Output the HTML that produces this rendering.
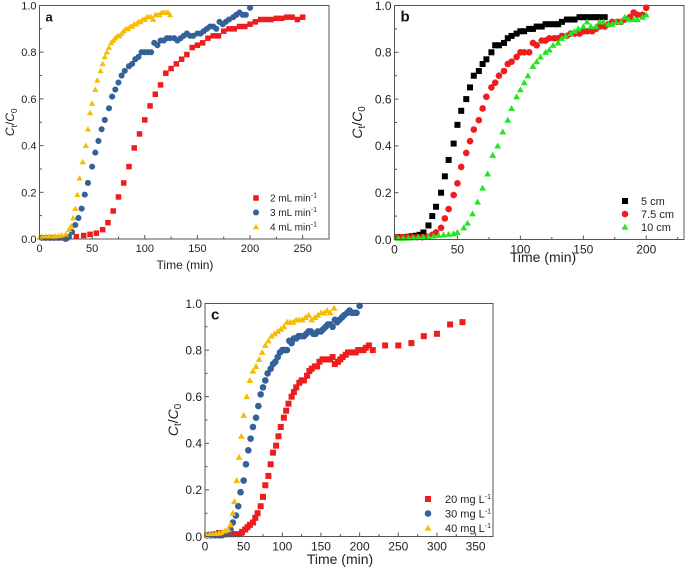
<!DOCTYPE html>
<html><head><meta charset="utf-8"><style>
html,body{margin:0;padding:0;background:#fff;}
svg{display:block;font-family:"Liberation Sans",Arial,sans-serif;}
</style></head><body>
<svg id="fig" width="685" height="568" viewBox="0 0 685 568"></svg>
<script>
// ---- Panel a data (flow rate) ----
const aRedX=[5,10,15,20,26,35,42,48,54,60,65,70,75,80,85,90,95,100,105,110,115,120,125,130,135,140,145,150,155,160,165,170,175,180,185,190,195,200,205,210,215,220,225,230,235,240,245,250];
const aRedY=[0.005,0.005,0.005,0.005,0.005,0.01,0.015,0.02,0.025,0.04,0.07,0.12,0.18,0.24,0.31,0.39,0.45,0.51,0.57,0.62,0.66,0.71,0.73,0.75,0.77,0.79,0.82,0.83,0.84,0.86,0.87,0.87,0.89,0.9,0.9,0.91,0.91,0.92,0.93,0.94,0.94,0.94,0.945,0.945,0.95,0.95,0.94,0.95];
const aBlueX=[2,6,10,14,18,22,25,28,31,34,37,40,43,46,50,53,56,59,62,66,69,72,75,78,81,85,88,91,94,97,100,103,106,109,112,115,118,121,124,128,131,134,137,140,143,146,150,153,156,159,162,165,168,171,174,177,180,184,187,190,193,196,200];
const aBlueY=[0.005,0.005,0.005,0.005,0.005,0.005,0.0,0.01,0.03,0.06,0.09,0.13,0.19,0.24,0.31,0.37,0.42,0.47,0.51,0.56,0.61,0.64,0.67,0.7,0.72,0.74,0.75,0.77,0.78,0.8,0.8,0.8,0.8,0.84,0.83,0.85,0.85,0.86,0.86,0.86,0.85,0.86,0.87,0.88,0.87,0.87,0.88,0.88,0.89,0.9,0.91,0.91,0.9,0.93,0.92,0.93,0.94,0.95,0.96,0.97,0.96,0.96,0.99];
const aYelX=[0,3,6,9,12,15,18,21,25,28,30,32,34,36,38,41,44,46,48,50,53,55,58,60,62,64,66,68,70,72,74,76,78,80,82,84,86,88,90,92,94,96,98,100,102,104,106,108,110,112,114,116,118,120,122,124];
const aYelY=[0.005,0.008,0.01,0.01,0.01,0.012,0.014,0.016,0.02,0.04,0.055,0.09,0.13,0.19,0.26,0.33,0.4,0.47,0.54,0.58,0.64,0.68,0.72,0.75,0.78,0.8,0.82,0.84,0.85,0.86,0.87,0.87,0.88,0.89,0.9,0.9,0.91,0.91,0.92,0.92,0.93,0.93,0.94,0.94,0.95,0.95,0.95,0.94,0.96,0.96,0.96,0.97,0.97,0.97,0.97,0.96];
// ---- Panel b data (bed height) ----
const bBlackX=[2,5,8,11,14,17,20,23,27,30,33,37,40,43,47,50,53,57,60,63,67,70,73,77,80,83,87,90,93,97,100,103,107,110,113,117,120,123,127,130,133,137,140,143,147,150,153,157,160,163,167];
const bBlackY=[0.01,0.01,0.01,0.012,0.014,0.016,0.02,0.03,0.06,0.1,0.14,0.2,0.27,0.34,0.41,0.49,0.55,0.6,0.65,0.7,0.72,0.75,0.77,0.8,0.83,0.83,0.84,0.86,0.87,0.88,0.89,0.89,0.9,0.9,0.91,0.91,0.92,0.92,0.92,0.92,0.93,0.94,0.94,0.94,0.95,0.95,0.95,0.95,0.95,0.95,0.95];
const bRedX=[2,6,10,14,18,22,26,30,33,37,40,43,47,50,53,57,60,63,67,70,73,77,80,83,87,90,93,97,100,103,107,110,113,117,120,123,127,130,133,137,140,143,147,150,153,157,160,163,167,170,173,177,180,183,187,190,193,197,200];
const bRedY=[0.01,0.01,0.01,0.01,0.01,0.01,0.012,0.02,0.03,0.05,0.09,0.13,0.19,0.24,0.31,0.37,0.42,0.47,0.51,0.56,0.61,0.65,0.67,0.7,0.72,0.75,0.76,0.78,0.8,0.8,0.8,0.84,0.83,0.85,0.85,0.86,0.86,0.86,0.87,0.87,0.88,0.88,0.88,0.89,0.89,0.89,0.9,0.91,0.91,0.92,0.93,0.93,0.93,0.94,0.95,0.97,0.96,0.96,0.99];
const bGreenX=[3,7,11,15,19,23,27,31,35,39,43,47,50,55,58,62,66,70,74,78,82,86,90,93,97,100,103,106,110,113,116,120,123,126,130,133,136,140,143,146,150,153,156,160,163,166,170,173,176,180,183,186,190,193,197,200];
const bGreenY=[0.005,0.005,0.006,0.008,0.01,0.01,0.012,0.015,0.018,0.02,0.022,0.025,0.03,0.05,0.07,0.11,0.16,0.22,0.28,0.36,0.4,0.46,0.51,0.56,0.61,0.64,0.67,0.7,0.74,0.76,0.78,0.8,0.81,0.83,0.84,0.86,0.87,0.88,0.89,0.9,0.91,0.93,0.91,0.91,0.93,0.93,0.92,0.92,0.93,0.93,0.95,0.94,0.94,0.94,0.95,0.96];
// ---- Panel c data (initial concentration) ----
const cRedX=[3,8,13,18,25,30,35,40,45,48,52,55,58,62,65,68,72,75,78,82,85,88,92,95,98,102,105,108,112,115,118,122,125,128,132,135,138,142,145,148,152,155,158,162,165,168,172,175,178,182,185,188,192,195,198,202,205,208,212,217,233,250,267,283,300,317,333];
const cRedY=[0.005,0.008,0.01,0.015,0.01,0.01,0.01,0.01,0.01,0.02,0.03,0.04,0.05,0.06,0.08,0.1,0.13,0.17,0.22,0.26,0.31,0.36,0.39,0.43,0.47,0.51,0.54,0.57,0.6,0.62,0.64,0.66,0.67,0.67,0.69,0.71,0.72,0.73,0.73,0.75,0.76,0.76,0.76,0.76,0.77,0.74,0.75,0.76,0.77,0.78,0.79,0.79,0.79,0.79,0.8,0.8,0.8,0.81,0.82,0.8,0.82,0.82,0.83,0.86,0.87,0.91,0.92];
const cBlueX=[3,8,13,18,22,26,30,33,36,40,43,46,50,53,56,59,62,66,69,72,75,78,81,85,88,91,94,97,100,103,106,109,112,115,118,121,124,128,131,134,137,140,143,146,150,153,156,159,162,165,168,171,174,177,180,184,187,190,193,196,200];
const cBlueY=[0.005,0.005,0.005,0.005,0.005,0.01,0.02,0.03,0.06,0.09,0.13,0.19,0.24,0.31,0.37,0.42,0.47,0.51,0.56,0.61,0.64,0.67,0.7,0.72,0.74,0.75,0.77,0.79,0.8,0.8,0.8,0.84,0.83,0.85,0.85,0.86,0.86,0.86,0.87,0.88,0.88,0.87,0.87,0.88,0.88,0.89,0.9,0.91,0.91,0.9,0.93,0.92,0.93,0.94,0.95,0.96,0.97,0.96,0.96,0.96,0.99];
const cYelX=[2,6,10,14,18,22,26,30,33,36,38,41,44,47,50,54,58,62,66,70,74,78,82,86,90,94,98,102,106,110,114,118,122,126,130,134,138,142,146,150,154,158,162,167];
const cYelY=[0.005,0.008,0.01,0.012,0.015,0.018,0.025,0.03,0.05,0.1,0.15,0.24,0.34,0.43,0.52,0.6,0.67,0.71,0.73,0.76,0.79,0.82,0.84,0.86,0.87,0.88,0.89,0.9,0.92,0.92,0.92,0.93,0.93,0.93,0.94,0.95,0.93,0.94,0.95,0.96,0.96,0.97,0.96,0.98];
const xTicksA=[0,50,100,150,200,250];
const xTicksB=[0,50,100,150,200];
const xTicksC=[0,50,100,150,200,250,300,350];
const yTicks=[0,0.2,0.4,0.6,0.8,1.0];

const NS="http://www.w3.org/2000/svg";
const svg=document.getElementById('fig');
function mk(tag,attrs,parent){const e=document.createElementNS(NS,tag);for(const k in attrs)e.setAttribute(k,attrs[k]);(parent||svg).appendChild(e);return e;}
const RED="#ee1c1c",BLUE="#35619a",YEL="#f7bd00",GRN="#22e622",BLK="#000";

function marker(g,shape,cx,cy,color,s){
  let e;
  if(shape==='sq'){e=mk('rect',{x:cx-s/2,y:cy-s/2,width:s,height:s,fill:color},g);}
  else if(shape==='ci'){e=mk('circle',{cx:cx,cy:cy,r:s/2+0.3,fill:color},g);}
  else {const h=s*0.95;e=mk('polygon',{points:`${cx},${cy-h*0.6} ${cx-s/2-0.4},${cy+h*0.45} ${cx+s/2+0.4},${cy+h*0.45}`,fill:color},g);}
  return e;
}

function panel(p){
  const g=mk('g',{});
  
  
  const xs=v=>p.L+(v-0)/(p.xmax)*(p.R-p.L);
  const ys=v=>p.B-v*(p.B-p.T);
  p.series.forEach(s=>{
    const sg=mk('g',{},g);
    
    
    for(let i=0;i<s.x.length;i++){
      const m=marker(sg,s.shape,xs(s.x[i]),ys(s.y[i]),s.color,p.ms);
      
      
    }
  });
  const fr=mk('rect',{x:p.L,y:p.T,width:p.R-p.L,height:p.B-p.T,fill:'none',stroke:'#555','stroke-width':1},g);
  
  
  const xa=mk('g',{},g);
  
  
  const step=p.xt[1]-p.xt[0];
  for(let v=0;v<=p.xmax+0.001;v+=step/2){
    const x=xs(v);const maj=Math.abs(v/step-Math.round(v/step))<1e-6;
    mk('line',{x1:x,x2:x,y1:p.B,y2:p.B-(maj?4:2.5),stroke:'#555','stroke-width':1},xa);
  }
  p.xt.forEach(v=>{
    const t=mk('text',{x:xs(v),y:p.B+p.fs+2,'font-size':p.fs,'text-anchor':'middle',fill:'#222'},xa);
    t.textContent=v;
    
    
  });
  const xt=mk('text',{x:p.xtx,y:p.xty,'font-size':p.tfs,'text-anchor':'middle',fill:'#222'},g);
  xt.textContent='Time (min)';
  
  
  const ya=mk('g',{},g);
  
  
  for(let v=0;v<=1.0001;v+=0.1){
    const y=ys(v);const maj=Math.round(v*10)%2===0;
    mk('line',{x1:p.L,x2:p.L+(maj?4:2.5),y1:y,y2:y,stroke:'#555','stroke-width':1},ya);
  }
  yTicks.forEach(v=>{
    const t=mk('text',{x:p.L-3,y:ys(v)+p.fs*0.36,'font-size':p.fs,'text-anchor':'end',fill:'#222'},ya);
    t.textContent=v.toFixed(1);
    
    
  });
  const yt=mk('text',{x:0,y:0,'font-size':p.tfs,'text-anchor':'middle',fill:'#222',transform:`translate(${p.ytx},${(p.T+p.B)/2}) rotate(-90)`},g);
  yt.innerHTML='<tspan font-style="italic">C</tspan><tspan font-size="'+(p.tfs*0.7)+'" dy="3">t</tspan><tspan dy="-3">/</tspan><tspan font-style="italic">C</tspan><tspan font-size="'+(p.tfs*0.7)+'" dy="3">0</tspan>';
  
  
  const lt=mk('text',{x:p.L+6,y:p.T+16,'font-size':p.tfs+1,'font-weight':'bold',fill:'#111'},g);
  lt.textContent=p.id;
  
  
  const lg=mk('g',{},g);
  
  
  p.series.forEach((s,i)=>{
    const y=p.legY+i*p.legDy;
    const e=mk('g',{},lg);
    
    
    marker(e,s.shape,p.legX,y,s.color,p.ms);
    const t=mk('text',{x:p.legX+p.legGap,y:y+p.lfs*0.36,'font-size':p.lfs,fill:'#222'},e);
    t.innerHTML=s.label;
  });
}
const sup='<tspan font-size="7" dy="-4">-1</tspan>';
panel({id:'a',L:39.5,R:329,T:5.5,B:239,xmax:275,xt:xTicksA,fs:11,tfs:12,ms:5.5,xtx:185,xty:269,ytx:14,
  legX:256,legY:198,legDy:14.5,legGap:14,lfs:10,
  series:[{name:'2-ml-min',label:'2 mL min'+sup,x:aRedX,y:aRedY,color:RED,shape:'sq'},
          {name:'3-ml-min',label:'3 mL min'+sup,x:aBlueX,y:aBlueY,color:BLUE,shape:'ci'},
          {name:'4-ml-min',label:'4 mL min'+sup,x:aYelX,y:aYelY,color:YEL,shape:'tr'}]});
panel({id:'b',L:394.5,R:684,T:5.5,B:239.5,xmax:230,xt:xTicksB,fs:12,tfs:14,ms:6,xtx:543,xty:262,ytx:362,
  legX:625,legY:201,legDy:13,legGap:16,lfs:11,
  series:[{name:'5-cm',label:'5 cm',x:bBlackX,y:bBlackY,color:BLK,shape:'sq'},
          {name:'7-5-cm',label:'7.5 cm',x:bRedX,y:bRedY,color:RED,shape:'ci'},
          {name:'10-cm',label:'10 cm',x:bGreenX,y:bGreenY,color:GRN,shape:'tr'}]});
panel({id:'c',L:205,R:493,T:303.5,B:536.5,xmax:372.5,xt:xTicksC,fs:12,tfs:14,ms:6,xtx:340,xty:564,ytx:178,
  legX:428,legY:499,legDy:14.5,legGap:17,lfs:11,
  series:[{name:'20-mg-l',label:'20 mg L'+sup,x:cRedX,y:cRedY,color:RED,shape:'sq'},
          {name:'30-mg-l',label:'30 mg L'+sup,x:cBlueX,y:cBlueY,color:BLUE,shape:'ci'},
          {name:'40-mg-l',label:'40 mg L'+sup,x:cYelX,y:cYelY,color:YEL,shape:'tr'}]});
</script>
</body></html>
